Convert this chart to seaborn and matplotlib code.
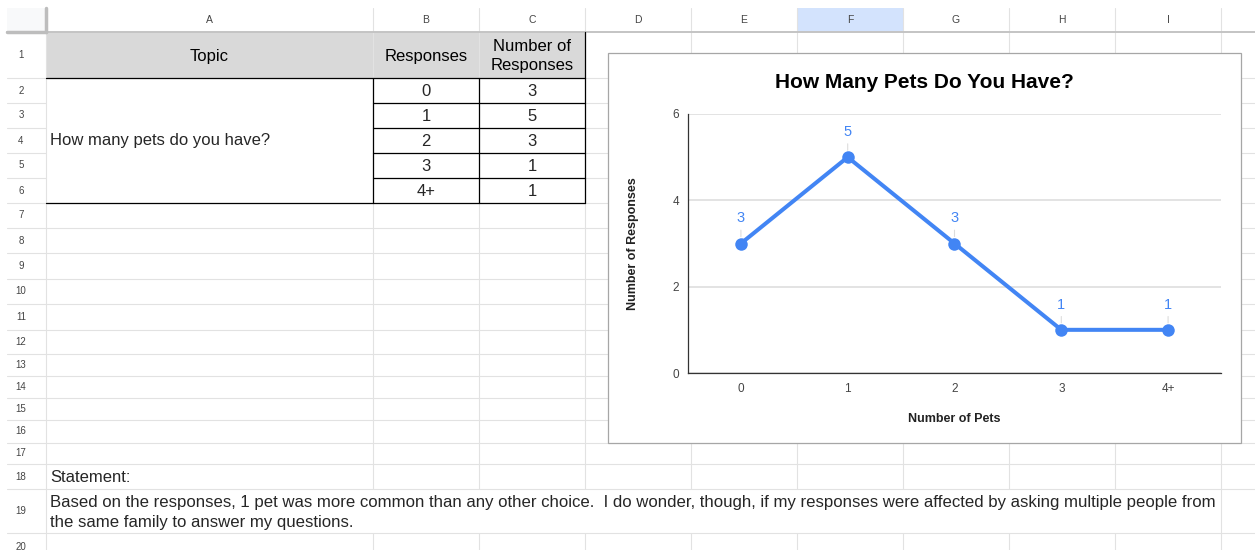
import numpy as np
import pandas as pd
import matplotlib
matplotlib.use("Agg")
import matplotlib.pyplot as plt
from matplotlib.patches import Rectangle
import seaborn as sns

# -- Data --
pets = ["0", "1", "2", "3", "4+"]
responses = [3, 5, 3, 1, 1]

col_letters = ["A", "B", "C", "D", "E", "F", "G", "H", "I"]
table_header = ["Topic", "Responses", "Number of\nResponses"]
topic = "How many pets do you have?"
statement_title = "Statement:"
statement = ("Based on the responses, 1 pet was more common than any other choice.  "
             "I do wonder, though, if my responses were affected by asking multiple people from\n"
             "the same family to answer my questions.")

chart_title = "How Many Pets Do You Have?"
x_label = "Number of Pets"
y_label = "Number of Responses"

# -- Style --
sns.set_style("white")
plt.rcParams["font.family"] = ["Liberation Sans", "DejaVu Sans"]

BLUE = "#4285f4"
GRID = "#e2e2e2"
W, H = 1255, 550

# sheet geometry in pixels
col_edges = [7, 46, 373, 479, 585, 691, 797, 903, 1009, 1115, 1221, 1260]
row_edges = [8, 32, 78, 103, 128, 153, 178, 203, 228, 253, 279, 304, 330,
             354, 376, 398, 420, 443, 464, 489, 533, 560]

fig = plt.figure(figsize=(W / 100, H / 100), dpi=100)
bg = fig.add_axes([0, 0, 1, 1])
bg.set_xlim(0, W)
bg.set_ylim(H, 0)
bg.axis("off")

# -- Spreadsheet grid --
# column header row
bg.add_patch(Rectangle((col_edges[6], row_edges[0]), col_edges[7] - col_edges[6],
                       row_edges[1] - row_edges[0], fc="#d3e3fd", ec="none", zorder=0))
bg.add_patch(Rectangle((col_edges[0], row_edges[0]), col_edges[1] - col_edges[0],
                       row_edges[1] - row_edges[0], fc="#f8f9fa", ec="none", zorder=0))
# topic header fill
bg.add_patch(Rectangle((col_edges[1], row_edges[1]), col_edges[4] - col_edges[1],
                       row_edges[2] - row_edges[1], fc="#d9d9d9", ec="none", zorder=0))

# horizontal grid lines
for k, y in enumerate(row_edges[2:], start=2):
    if 3 <= k <= 6:
        # merged A2:A6, no lines inside column A
        bg.plot([col_edges[0], col_edges[1]], [y, y], color=GRID, lw=0.8, zorder=1)
        bg.plot([col_edges[2], W], [y, y], color=GRID, lw=0.8, zorder=1)
    else:
        bg.plot([col_edges[0], W], [y, y], color=GRID, lw=0.8, zorder=1)
bg.plot([col_edges[0], W], [row_edges[1], row_edges[1]], color="#c4c4c4", lw=1.4, zorder=2)

# vertical grid lines
for k, x in enumerate(col_edges[1:], start=1):
    if 2 <= k <= 9:
        bg.plot([x, x], [row_edges[0], row_edges[19]], color=GRID, lw=0.8, zorder=1)
        bg.plot([x, x], [row_edges[20], H], color=GRID, lw=0.8, zorder=1)
    else:
        bg.plot([x, x], [row_edges[0], H], color=GRID, lw=0.8, zorder=1)
# corner cell border
bg.plot([col_edges[1], col_edges[1]], [row_edges[0], row_edges[1]], color="#bdbdbd", lw=2.5, zorder=2)
bg.plot([col_edges[0], col_edges[1]], [row_edges[1], row_edges[1]], color="#bdbdbd", lw=2.5, zorder=2)

# table black borders
bg.plot([col_edges[1], col_edges[4]], [row_edges[2], row_edges[2]], color="black", lw=0.9, zorder=3)
bg.plot([col_edges[1], col_edges[4]], [row_edges[7], row_edges[7]], color="black", lw=0.9, zorder=3)
for y in row_edges[3:7]:
    bg.plot([col_edges[2], col_edges[4]], [y, y], color="black", lw=0.9, zorder=3)
for x in col_edges[2:4]:
    bg.plot([x, x], [row_edges[2], row_edges[7]], color="black", lw=0.9, zorder=3)
bg.plot([col_edges[4], col_edges[4]], [row_edges[1], row_edges[7]], color="black", lw=0.9, zorder=3)

# column letters and row numbers
for i, letter in enumerate(col_letters):
    cx = (col_edges[i + 1] + col_edges[i + 2]) / 2
    bg.text(cx, (row_edges[0] + row_edges[1]) / 2, letter, ha="center", va="center",
            fontsize=7.5, color="#444444", zorder=4)
for r in range(1, len(row_edges) - 1):
    cy = (row_edges[r] + row_edges[r + 1]) / 2
    bg.text(21, cy, str(r), ha="center", va="center", fontsize=7, color="#444444", zorder=4)

# table text
for i, label in enumerate(table_header):
    cx = (col_edges[i + 1] + col_edges[i + 2]) / 2
    bg.text(cx, (row_edges[1] + row_edges[2]) / 2 + 1, label, ha="center", va="center",
            fontsize=12, linespacing=1.35, color="black", zorder=4)
for r, (p, v) in enumerate(zip(pets, responses)):
    cy = (row_edges[r + 2] + row_edges[r + 3]) / 2 + 1
    bg.text((col_edges[2] + col_edges[3]) / 2, cy, p, ha="center", va="center", fontsize=12, zorder=4)
    bg.text((col_edges[3] + col_edges[4]) / 2, cy, str(v), ha="center", va="center", fontsize=12, zorder=4)
bg.text(50, (row_edges[2] + row_edges[7]) / 2, topic, ha="left", va="center", fontsize=12, zorder=4)

# statement
bg.text(50, (row_edges[18] + row_edges[19]) / 2 + 1, statement_title, ha="left", va="center",
        fontsize=12, zorder=4)
bg.text(50, (row_edges[19] + row_edges[20]) / 2 + 1.5, statement, ha="left", va="center",
        fontsize=12.1, linespacing=1.38, zorder=4)

# chart box
bg.add_patch(Rectangle((608, 53), 633, 390, fc="white", ec="#a6a6a6", lw=0.9, zorder=5))
fig.text(924.5 / W, 1 - 83 / H, chart_title, ha="center", va="center",
         fontsize=15, fontweight="bold", color="black", zorder=6)

# -- Chart --
df = pd.DataFrame({"pets": pets, "responses": responses})
ax = fig.add_axes([687.5 / W, 1 - 373 / H, 534 / W, 259 / H])
ax.set_facecolor("white")
sns.lineplot(data=df, x="pets", y="responses", ax=ax, color=BLUE, linewidth=2.9,
             marker="o", markersize=9, markeredgewidth=0, zorder=3)

for i, v in enumerate(responses):
    ax.annotate(str(v), xy=(i, v), xytext=(0, 18), textcoords="offset points",
                ha="center", va="center", color=BLUE, fontsize=10.5,
                arrowprops=dict(arrowstyle="-", color="#dcdcdc", lw=0.8, shrinkA=1, shrinkB=5))

ax.set_xlim(-0.5, len(pets) - 0.5)
ax.set_ylim(0, 6)
ax.set_yticks([0, 2, 4, 6])
ax.grid(axis="y", color="#dedede", lw=1.2)
ax.grid(axis="x", visible=False)
sns.despine(ax=ax, top=True, right=True)
for side in ["left", "bottom"]:
    ax.spines[side].set_color("#333333")
    ax.spines[side].set_linewidth(0.9)
ax.tick_params(axis="both", length=0, labelsize=8.5, colors="#444444")
ax.tick_params(axis="y", pad=6)
ax.tick_params(axis="x", pad=7)
ax.set_xlabel(x_label, fontsize=9, fontweight="bold", color="#222222")
ax.set_ylabel(y_label, fontsize=9, fontweight="bold", color="#222222")
ax.xaxis.set_label_coords(0.5, -0.154)
ax.yaxis.set_label_coords(-0.091, 0.5)

plt.savefig("out.png", dpi=100)
